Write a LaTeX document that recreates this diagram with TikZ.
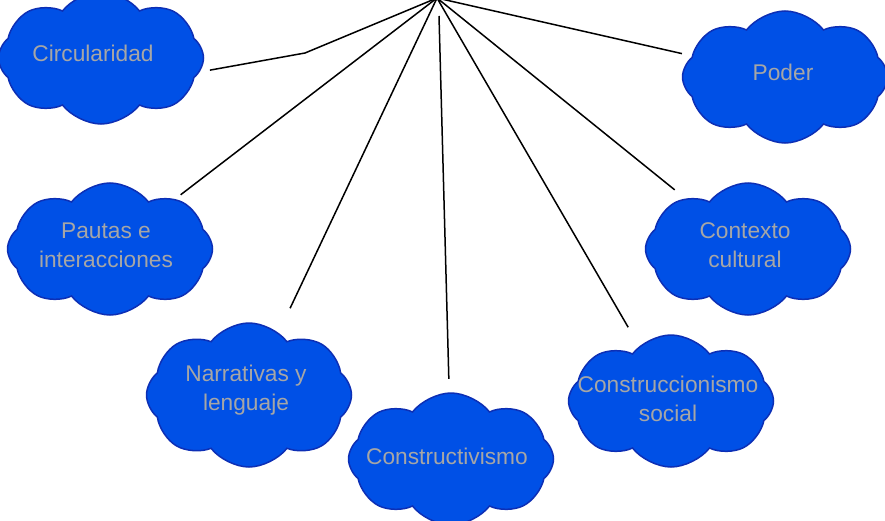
\documentclass[tikz,border=0pt]{standalone}
\usepackage{fontspec}
\setmainfont{Liberation Sans}
\usetikzlibrary{shapes.symbols}
\definecolor{cloudfill}{HTML}{0050E6}
\definecolor{cloudedge}{HTML}{0D2FB5}
\definecolor{cloudtext}{HTML}{A6A6A6}

\begin{document}
\begin{tikzpicture}[x=0.3mm, y=-0.3mm,
		puff/.style={cloud, cloud puffs=8, cloud puff arc=105, cloud ignores aspect,
			minimum width=61.5mm, minimum height=39.6mm, inner sep=0pt,
			draw=cloudedge, fill=cloudfill, line width=0.45mm},
		lbl/.style={text=cloudtext, align=center, inner sep=0pt,
			font=\fontsize{19.4pt}{24.7pt}\selectfont},
		link/.style={line width=0.45mm, black, shorten >=2mm}]
			%%%%% START %%%%%
			
			\useasboundingbox (0, 0) rectangle (885, 521);
			
			\coordinate (hub) at (437, -2);
			\coordinate (bend) at (305, 53);
			\coordinate (cvtop) at (439, 16);
			
			\node[puff] (circ) at (101, 58) {};
			\node[lbl] (circ-t) at (93, 53) {Circularidad};
			
			\node[puff] (poder) at (785, 77) {};
			\node[lbl] (poder-t) at (783, 72) {Poder};
			
			\node[puff] (pautas) at (110, 249) {};
			\node[lbl] (pautas-t) at (106, 245) {Pautas e\\interacciones};
			
			\node[puff] (contexto) at (748, 249) {};
			\node[lbl] (contexto-t) at (745, 245) {Contexto\\cultural};
			
			\node[puff, minimum height=43.2mm] (narr) at (249, 395) {};
			\node[lbl] (narr-t) at (246, 390) {Narrativas y\\lenguaje};
			
			\node[puff] (cson) at (671, 401) {};
			\node[lbl] (cson-t) at (668, 399) {Construccionismo\\social};
			
			\node[puff] (cvis) at (451, 459) {};
			\node[lbl] (cvis-t) at (447, 456) {Constructivismo};
			
			\draw[link, shorten >=3mm] (hub) -- (bend) -- (circ.-8);
			\draw[link] (hub) -- (pautas);
			\draw[link, shorten >=8mm] (hub) -- (narr);
			\draw[link, shorten >=4mm] (cvtop) -- (cvis);
			\draw[link, shorten >=6.5mm] (hub) -- (cson);
			\draw[link, shorten >=4mm] (hub) -- (contexto);
			\draw[link, shorten >=3mm] (hub) -- (poder);
			
			%%%%% END %%%%%
		\end{tikzpicture}
\end{document}
